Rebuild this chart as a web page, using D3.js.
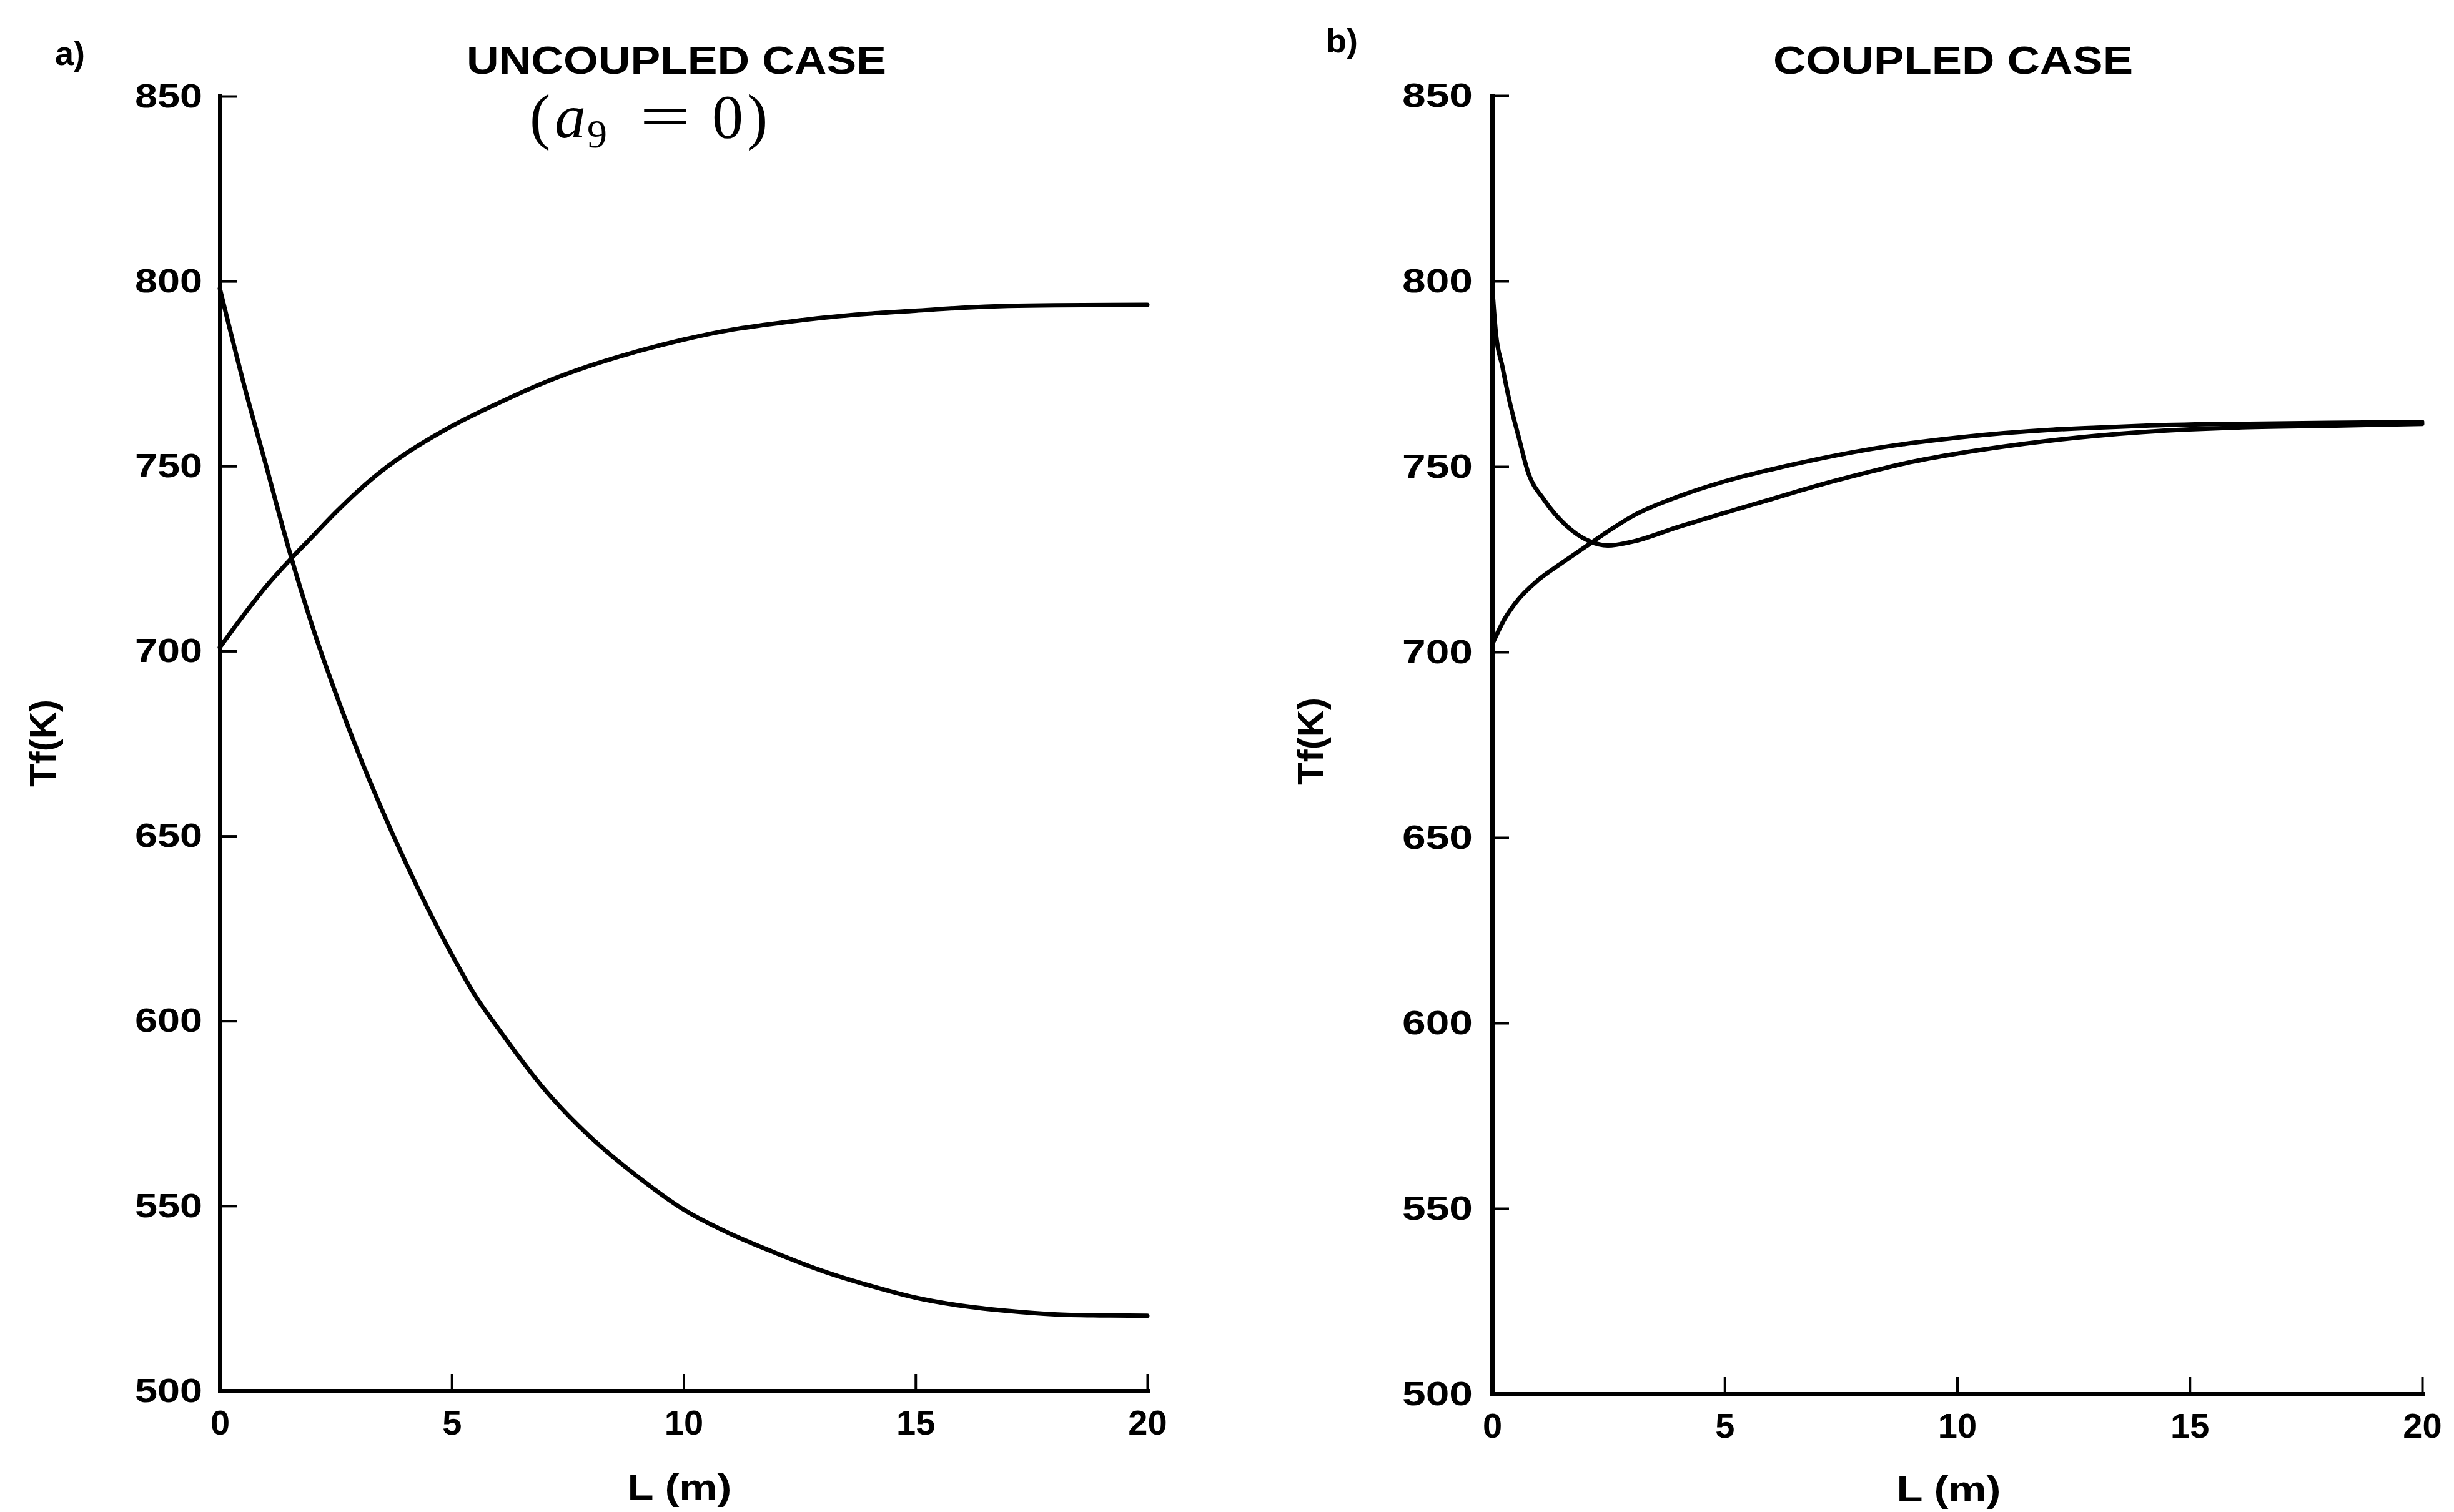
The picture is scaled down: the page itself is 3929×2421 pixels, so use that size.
<!DOCTYPE html>
<html>
<head>
<meta charset="utf-8">
<script src="https://cdn.jsdelivr.net/npm/d3@7"></script>
<style>
  html, body { margin: 0; padding: 0; background: #fff; }
  svg { display: block; }
</style>
</head>
<body>
<svg id="fig" width="3929" height="2421"></svg>
<script>
// Axis ticks shared by both panels
const lengthTicks = [0, 5, 10, 15, 20];
const tempTicks = [500, 550, 600, 650, 700, 750, 800, 850];

// Panel a: uncoupled case, [L (m), Tf (K)]
const uncoupledCooling = [
  [0, 798], [0.5, 773], [1, 750], [1.5, 727], [2, 706.5], [2.5, 688.5], [3, 672],
  [3.5, 657], [4, 643], [4.5, 630], [5, 618], [5.5, 607], [6, 598], [7, 581.5],
  [8, 568.5], [9, 558], [10, 549], [11, 542.5], [12, 537.2], [13, 532.4], [14, 528.5],
  [15, 525.2], [16, 523], [17, 521.6], [18, 520.7], [19, 520.4], [20, 520.3]
];
const uncoupledHeating = [
  [0, 701], [0.5, 709.5], [1, 717.5], [1.5, 724.5], [2, 731], [2.5, 737.5], [3, 743.5],
  [3.5, 748.8], [4, 753.3], [5, 760.8], [6, 767], [7, 772.6], [8, 777.2], [9, 781],
  [10, 784.2], [11, 786.8], [12, 788.6], [13, 790.1], [14, 791.2], [15, 792],
  [16, 792.8], [17, 793.3], [18, 793.5], [20, 793.6]
];

// Panel b: coupled case, [L (m), Tf (K)]
const coupledCooling = [
  [0, 799], [0.08, 786], [0.22, 777], [0.36, 768.4], [0.57, 758], [0.77, 748.6],
  [1.12, 741], [1.6, 734], [2.07, 730], [2.49, 728.7], [3, 729.7], [4, 733.7],
  [5, 737.5], [6, 741.2], [7, 744.9], [8, 748.2], [9, 751.2], [10, 753.5], [11, 755.4],
  [12, 757], [13, 758.3], [14, 759.3], [15, 760], [16, 760.5], [18, 761], [20, 761.5]
];
const coupledHeating = [
  [0, 702], [0.25, 708.5], [0.5, 713.2], [1, 719.5], [1.5, 724], [2, 728.3],
  [2.5, 732.6], [3, 736.5], [4, 741.9], [5, 746], [6, 749.2], [7, 752], [8, 754.4],
  [9, 756.3], [10, 757.8], [11, 759], [12, 759.9], [13, 760.5], [14, 761],
  [16, 761.5], [18, 761.8], [20, 762]
];

const svg = d3.select("#fig");
svg.append("rect").attr("width", 3929).attr("height", 2421).attr("fill", "#fff");

const SANS = "'Liberation Sans', Arial, sans-serif";
const SERIF = "'Liberation Serif', 'Times New Roman', serif";
const STROKE = 7;

function drawPanel(cfg) {
  const x = d3.scaleLinear().domain([0, 20]).range([cfg.left, cfg.right]);
  const y = d3.scaleLinear().domain([500, 850]).range([cfg.bottom, cfg.top]);

  // Left axis: inward ticks, bold wide labels
  const yAxis = svg.append("g")
    .attr("transform", `translate(${cfg.left},0)`)
    .call(d3.axisLeft(y).tickValues(tempTicks).tickSizeInner(-27).tickSizeOuter(0)
      .tickPadding(cfg.yPad).tickFormat(d3.format("d")));
  yAxis.select(".domain").attr("stroke-width", STROKE).attr("stroke-linecap", "square");
  yAxis.selectAll(".tick line").attr("stroke-width", 4);
  yAxis.selectAll(".tick text")
    .attr("font-family", SANS).attr("font-weight", "bold").attr("font-size", 54)
    .attr("fill", "#000")
    .attr("textLength", cfg.yLabelWidth).attr("lengthAdjust", "spacingAndGlyphs");

  // Bottom axis: upward ticks
  const xAxis = svg.append("g")
    .attr("transform", `translate(0,${cfg.bottom})`)
    .call(d3.axisBottom(x).tickValues(lengthTicks).tickSizeInner(-27).tickSizeOuter(0)
      .tickPadding(30).tickFormat(d3.format("d")));
  xAxis.select(".domain").attr("stroke-width", STROKE).attr("stroke-linecap", "square");
  xAxis.selectAll(".tick line").attr("stroke-width", 4);
  xAxis.selectAll(".tick text")
    .attr("font-family", SANS).attr("font-weight", "bold").attr("font-size", 56)
    .attr("fill", "#000");

  // Temperature profiles
  const line = d3.line().x(d => x(d[0])).y(d => y(d[1])).curve(d3.curveMonotoneX);
  cfg.series.forEach(s => {
    svg.append("path").datum(s)
      .attr("d", line)
      .attr("fill", "none").attr("stroke", "#000")
      .attr("stroke-width", STROKE).attr("stroke-linejoin", "round").attr("stroke-linecap", "round");
  });

  // Panel letter
  svg.append("text").attr("x", cfg.letterX).attr("y", cfg.letterY)
    .attr("font-family", SANS).attr("font-weight", "bold").attr("font-size", 54)
    .text(cfg.letter);

  // Title
  svg.append("text").attr("x", cfg.titleX).attr("y", 118)
    .attr("text-anchor", "middle")
    .attr("font-family", SANS).attr("font-weight", "bold").attr("font-size", 63)
    .attr("textLength", cfg.titleWidth).attr("lengthAdjust", "spacingAndGlyphs")
    .text(cfg.title);

  // Axis titles
  svg.append("text")
    .attr("transform", `translate(${cfg.yTitleX},${cfg.yTitleY}) rotate(-90)`)
    .attr("text-anchor", "middle").attr("dominant-baseline", "central")
    .attr("font-family", SANS).attr("font-weight", "bold").attr("font-size", 60)
    .attr("textLength", 140).attr("lengthAdjust", "spacingAndGlyphs")
    .text("Tf(K)");
  svg.append("text")
    .attr("x", cfg.xTitleX).attr("y", cfg.xTitleY)
    .attr("text-anchor", "middle")
    .attr("font-family", SANS).attr("font-weight", "bold").attr("font-size", 58)
    .attr("textLength", 167).attr("lengthAdjust", "spacingAndGlyphs")
    .text("L (m)");
}

drawPanel({
  left: 352, right: 1837, top: 154, bottom: 2227,
  yPad: 28, yLabelWidth: 108,
  series: [uncoupledCooling, uncoupledHeating],
  letter: "a)", letterX: 88, letterY: 104,
  title: "UNCOUPLED CASE", titleX: 1083, titleWidth: 672,
  yTitleX: 68, yTitleY: 1190,
  xTitleX: 1088, xTitleY: 2401
});

drawPanel({
  left: 2389, right: 3878, top: 153, bottom: 2232,
  yPad: 31, yLabelWidth: 113,
  series: [coupledCooling, coupledHeating],
  letter: "b)", letterX: 2123, letterY: 84,
  title: "COUPLED CASE", titleX: 3127, titleWidth: 576,
  yTitleX: 2098, yTitleY: 1187,
  xTitleX: 3120, xTitleY: 2404
});

// Parameter note under the uncoupled title: (a9 = 0)
const note = svg.append("text").attr("y", 220)
  .attr("font-family", SERIF).attr("font-size", 100);
note.append("tspan").attr("x", 848).text("(");
note.append("tspan").attr("x", 888).attr("font-style", "italic").text("a");
note.append("tspan").attr("x", 940).attr("font-size", 64).attr("dy", 16).text("9");
note.append("tspan").attr("x", 1140).attr("dy", -16).text("0");
note.append("tspan").attr("x", 1196).text(")");
// the equals sign is drawn wider, as in the typeset original
svg.append("text").attr("x", 1024).attr("y", 220)
  .attr("font-family", SERIF).attr("font-size", 100)
  .attr("textLength", 82).attr("lengthAdjust", "spacingAndGlyphs")
  .text("=");
</script>
</body>
</html>
